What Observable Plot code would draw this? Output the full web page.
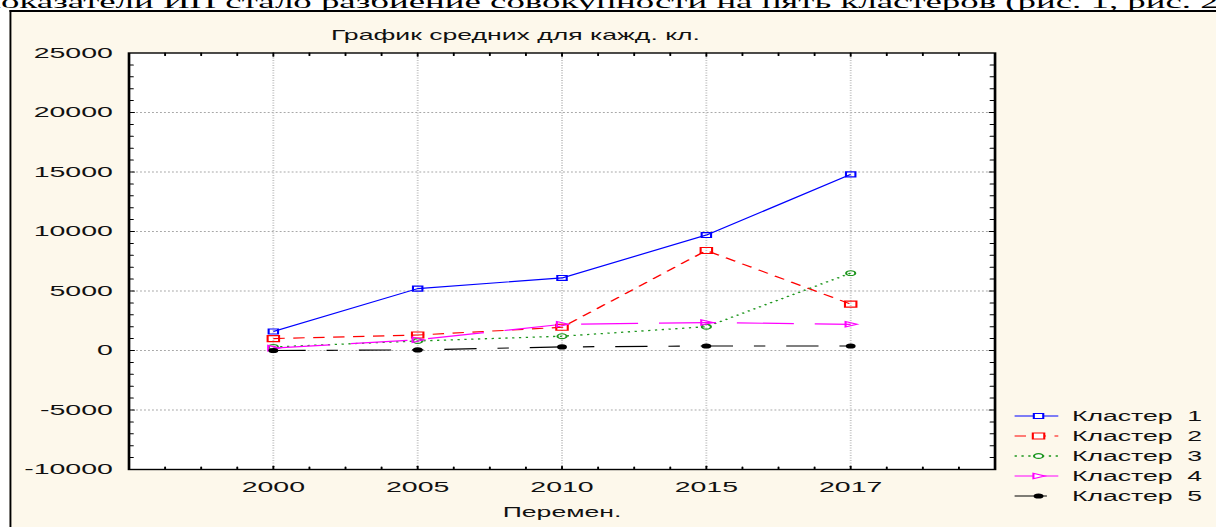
<!DOCTYPE html>
<html><head><meta charset="utf-8">
<script src="https://cdn.jsdelivr.net/npm/d3@7"></script>
<script src="https://cdn.jsdelivr.net/npm/@observablehq/plot@0.6"></script>
<style>
html,body{margin:0;padding:0;background:#fff;overflow:hidden;width:1216px;height:527px;}
#page{position:absolute;left:0;top:0;width:640px;height:527px;transform:scaleX(1.9);transform-origin:0 0;}
#doc{position:absolute;left:-9.8px;top:-8.4px;font:19.4px/19.4px "Liberation Serif","Times New Roman",serif;white-space:nowrap;color:#000;}
#frame{position:absolute;left:5.3px;top:10px;width:700px;height:600px;background:#fdf8eb;border-left:1.1px solid #000;border-top:2px solid #000;}
#chart{position:absolute;left:0;top:0;}
#legend{position:absolute;left:0;top:0;font:14px "Liberation Sans",Arial,sans-serif;color:#111;}
.row{position:absolute;display:flex;align-items:center;height:14px;white-space:pre;}
.row svg{display:block;overflow:visible;}
</style></head><body>
<div id="page">
  <div id="doc">показатели ИП стало разбиение совокупности на пять кластеров (рис. 1, рис. 2)</div>
  <div id="frame"></div>
  <div id="chart"></div>
  <div id="legend"></div>
</div>
<script>
// ---- data ----
const title = "График средних для кажд. кл.";
const xTitle = "Перемен.";
const years = ["2000", "2005", "2010", "2015", "2017"];
const clusterNames = ["Кластер  1", "Кластер  2", "Кластер  3", "Кластер  4", "Кластер  5"];
const cluster1 = [1600, 5200, 6100, 9700, 14800];
const cluster2 = [1000, 1300, 1950, 8400, 3900];
const cluster3 = [300, 800, 1200, 2000, 6500];
const cluster4 = [200, 900, 2200, 2350, 2200];
const cluster5 = [0, 50, 300, 380, 380];
const yTicks = [-10000, -5000, 0, 5000, 10000, 15000, 20000, 25000];

// ---- styles ----
const triRight = {draw(ctx, size) {
  const r = Math.sqrt(size / Math.PI);
  ctx.moveTo(r * 1.1, 0); ctx.lineTo(-r * 0.9, -r * 0.9); ctx.lineTo(-r * 0.9, r * 0.9); ctx.closePath();
}};
const styles = [
  {color: "#0000ff", dash: undefined, symbol: "square", r: 2.8, fill: "none", width: 1.1},
  {color: "#ff0000", dash: "6,4.5", symbol: "square", r: 3.4, fill: "none", width: 1.1},
  {color: "#1e961e", dash: "1.2,2.4", symbol: "circle", r: 2.4, fill: "none", width: 1.3},
  {color: "#ff00ff", dash: "30,11", symbol: triRight, r: 3, fill: "none", width: 1.2},
  {color: "#000000", dash: "17,11,6,11", symbol: "circle", r: 2.6, fill: "#000", width: 1.2}
];

const clusters = [cluster1, cluster2, cluster3, cluster4, cluster5];
const data = clusters.flatMap((vals, ci) => vals.map((v, i) => ({ci, i, v})));
const xIdx = years.map((_, i) => i);
const yGrid = yTicks.slice(1, -1);
const yMinor = d3.range(-9000, 25000, 1000).filter(v => v % 5000 !== 0);
const xMinor = d3.range(-0.75, 5, 0.25).filter(v => !Number.isInteger(v));

const tickShape = {draw(ctx, l) { ctx.moveTo(0, 0); ctx.lineTo(0, -l); }};
const vt = (vals, opts) => Plot.vector(vals, {anchor: "start", shape: tickShape, stroke: "#000", strokeWidth: 1, ...opts});

const font = "'Liberation Sans', Arial, sans-serif";

const chart = Plot.plot({
  width: 640, height: 527,
  marginLeft: 67.4, marginRight: 116.8, marginTop: 52.5, marginBottom: 58,
  x: {domain: [-1, 5]},
  y: {domain: [-10000, 25000]},
  style: {background: "transparent", fontFamily: font, color: "#111", overflow: "visible"},
  marks: [
    Plot.frame({fill: "white", stroke: null}),
    Plot.gridY(yGrid, {stroke: "#a8a8a8", strokeOpacity: 1, strokeDasharray: "1,1.1"}),
    Plot.gridX(xIdx, {stroke: "#c4c4c4", strokeOpacity: 1, strokeDasharray: "1,1.5"}),
    ...styles.map((st, ci) => Plot.line(data.filter(d => d.ci === ci), {
      x: "i", y: "v", stroke: st.color, strokeWidth: st.width, strokeDasharray: st.dash, strokeLinecap: "butt"
    })),
    ...styles.map((st, ci) => Plot.dot(data.filter(d => d.ci === ci), {
      x: "i", y: "v", symbol: st.symbol, r: st.r,
      stroke: st.fill === "none" ? st.color : "none", fill: st.fill, strokeWidth: 1.1
    })),
    vt(yMinor, {y: d => d, frameAnchor: "left", rotate: 90, length: 2.1}),
    vt(yGrid, {y: d => d, frameAnchor: "left", rotate: 90, length: 2.7}),
    vt(yMinor, {y: d => d, frameAnchor: "right", rotate: 270, length: 2.4}),
    vt(yGrid, {y: d => d, frameAnchor: "right", rotate: 270, length: 2.9}),
    vt(xMinor, {x: d => d, frameAnchor: "top", rotate: 180, length: 2.5}),
    vt(xIdx, {x: d => d, frameAnchor: "top", rotate: 180, length: 3.2}),
    vt(xMinor, {x: d => d, frameAnchor: "bottom", rotate: 0, length: 2.5}),
    vt(xIdx, {x: d => d, frameAnchor: "bottom", rotate: 0, length: 3.2}),
    Plot.axisY(yTicks, {anchor: "left", tickSize: 0, tickPadding: 8.5, fontSize: 15, label: null, tickFormat: d => String(d)}),
    Plot.axisX(xIdx, {anchor: "bottom", tickSize: 0, tickPadding: 12, fontSize: 15, label: null, tickFormat: i => years[i]}),
    Plot.text([title], {text: d => d, frameAnchor: "top", dx: -24.5, dy: -23, fontSize: 14}),
    Plot.text([xTitle], {text: d => d, frameAnchor: "bottom", dx: 0, dy: 47, fontSize: 14}),
    Plot.frame({stroke: "#000", strokeWidth: 1.4})
  ]
});
document.getElementById("chart").appendChild(chart);

// ---- legend ----
const symType = s => s === "square" ? d3.symbolSquare : s === "circle" ? d3.symbolCircle : s;
const leg = d3.select("#legend");
clusterNames.forEach((name, ci) => {
  const st = styles[ci];
  const row = leg.append("div").attr("class", "row")
    .style("left", "533.7px").style("top", (408.5 + ci * 20.1) + "px");
  const svg = row.append("svg").attr("width", 24).attr("height", 14);
  svg.append("line").attr("x1", 0).attr("x2", 23).attr("y1", 7).attr("y2", 7)
    .attr("stroke", st.color).attr("stroke-width", st.width)
    .attr("stroke-dasharray", st.dash || null);
  svg.append("path").attr("transform", "translate(12.6,7)")
    .attr("d", d3.symbol(symType(st.symbol), Math.PI * st.r * st.r)())
    .attr("fill", st.fill === "none" ? "#fff" : st.fill)
    .attr("stroke", st.fill === "none" ? st.color : "none").attr("stroke-width", 1.1);
  row.append("span").style("margin-left", "6.5px").text(name);
});
</script>
</body></html>
